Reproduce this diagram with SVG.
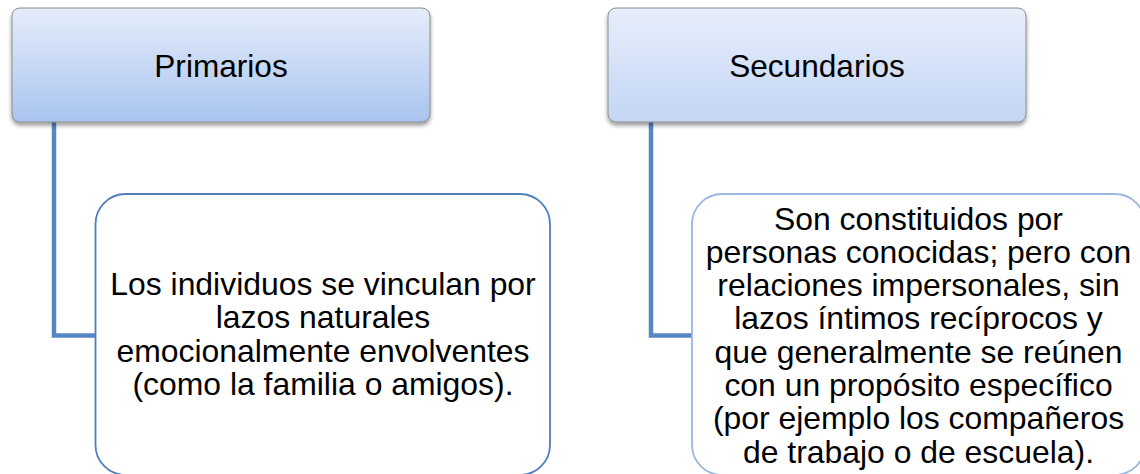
<svg xmlns="http://www.w3.org/2000/svg" width="1140" height="474" viewBox="0 0 1140 474">
<style>
.title{font-family:"Liberation Sans",Arial,sans-serif;font-size:31.6px;fill:#000;text-anchor:middle}
.body{font-family:"Liberation Sans",Arial,sans-serif;font-size:31.9px;fill:#000;text-anchor:middle}
.conn{fill:none;stroke:#5886c4;stroke-width:4.5}
</style>
<defs>
<linearGradient id="g1" x1="0" y1="0" x2="0" y2="1">
<stop offset="0" stop-color="#e5edfa"/>
<stop offset="1" stop-color="#a9c4ef"/>
</linearGradient>
<linearGradient id="g2" x1="0" y1="0" x2="0" y2="1">
<stop offset="0" stop-color="#e7eefb"/>
<stop offset="1" stop-color="#c3d6f5"/>
</linearGradient>
<filter id="sh" x="-5%" y="-10%" width="110%" height="130%">
<feGaussianBlur in="SourceAlpha" stdDeviation="2"/>
<feOffset dx="0" dy="3" result="b"/>
<feComponentTransfer><feFuncA type="linear" slope="0.4"/></feComponentTransfer>
<feMerge><feMergeNode/><feMergeNode in="SourceGraphic"/></feMerge>
</filter>
</defs>
<rect width="1140" height="474" fill="#fff"/>
<g id="connectors">
<path class="conn" d="M54 122 V335.5 H96"/>
<path class="conn" d="M651 122 V335.5 H693"/>
</g>
<g id="primarios">
<rect x="12" y="8" width="418" height="114" rx="8" fill="url(#g1)" stroke="#8c8c8c" stroke-width="1" filter="url(#sh)"/>
<text class="title" x="221" y="76.5">Primarios</text>
</g>
<g id="secundarios">
<rect x="608" y="8" width="418" height="114" rx="8" fill="url(#g2)" stroke="#8c8c8c" stroke-width="1" filter="url(#sh)"/>
<text class="title" x="817" y="76.5">Secundarios</text>
</g>
<g id="desc-primarios">
<rect x="95.5" y="194" width="454.5" height="281" rx="30" fill="#fff" stroke="#4f7fbd" stroke-width="1.8"/>
<text class="body" x="323" y="295">Los individuos se vinculan por</text>
<text class="body" x="323" y="328.3">lazos naturales</text>
<text class="body" x="323" y="361.6">emocionalmente envolventes</text>
<text class="body" x="323" y="394.9">(como la familia o amigos).</text>
</g>
<g id="desc-secundarios">
<rect x="692" y="194" width="453" height="281" rx="30" fill="#fff" stroke="#9cb6de" stroke-width="1.8"/>
<text class="body" x="918.5" y="229.5">Son constituidos por</text>
<text class="body" x="918.5" y="262.8">personas conocidas; pero con</text>
<text class="body" x="918.5" y="296.1">relaciones impersonales, sin</text>
<text class="body" x="918.5" y="329.4">lazos íntimos recíprocos y</text>
<text class="body" x="918.5" y="362.7">que generalmente se reúnen</text>
<text class="body" x="918.5" y="396">con un propósito específico</text>
<text class="body" x="918.5" y="429.3">(por ejemplo los compañeros</text>
<text class="body" x="918.5" y="462.6">de trabajo o de escuela).</text>
</g>
</svg>
